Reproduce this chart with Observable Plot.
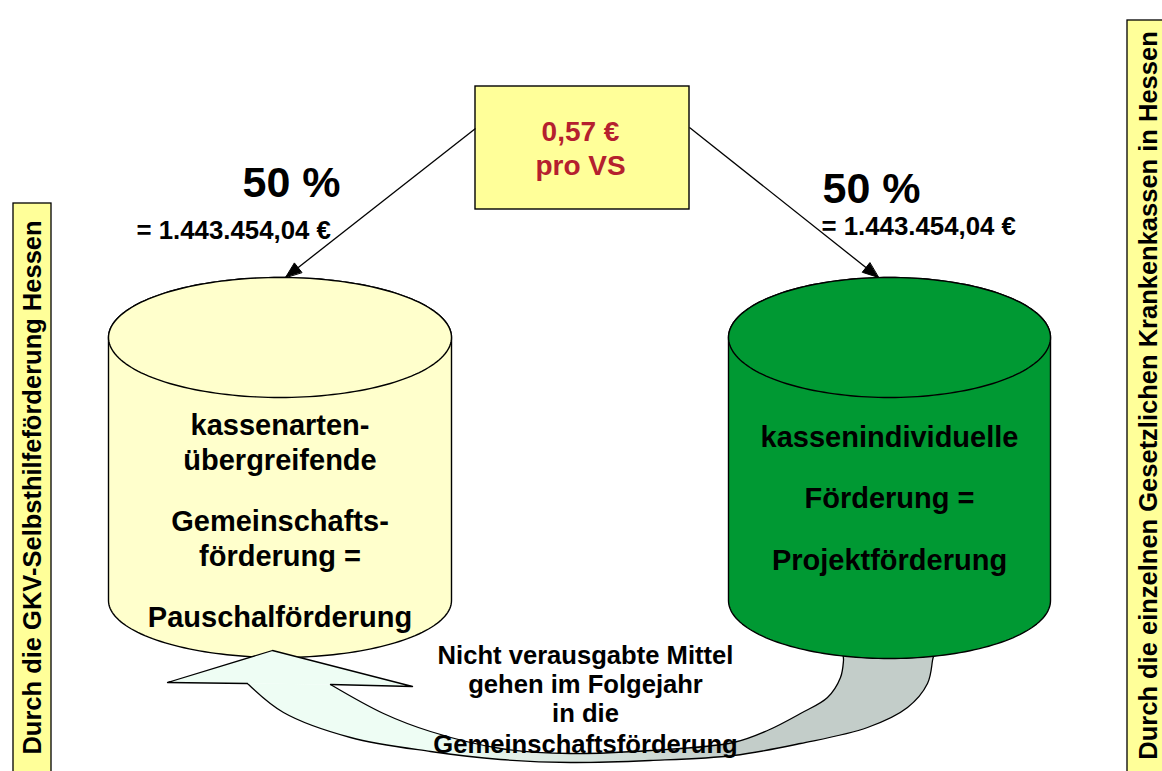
<!DOCTYPE html>
<html><head><meta charset="utf-8">
<script src="https://cdn.jsdelivr.net/npm/d3@7"></script>
<script src="https://cdn.jsdelivr.net/npm/@observablehq/plot@0.6"></script>
<style>
html,body{margin:0;padding:0;background:#fff;}
#chart{width:1162px;height:771px;overflow:hidden;}
</style></head><body>
<svg width="0" height="0" style="position:absolute">
<defs><linearGradient id="carryGrad" x1="0" x2="1" y1="0" y2="0">
<stop offset="0.27" stop-color="#eefdf4"/><stop offset="0.70" stop-color="#c3cdc9"/>
</linearGradient></defs></svg>
<div id="chart"></div>
<script>
// ---------- data (texts and values) ----------
const rateLines = ["0,57 €", "pro VS"];
const shareLabels = ["50 %", "50 %"];
const amountLabels = ["= 1.443.454,04 €", "= 1.443.454,04 €"];
const sideLabels = ["Durch die GKV-Selbsthilfeförderung Hessen",
                    "Durch die einzelnen Gesetzlichen Krankenkassen in Hessen"];
const poolLeftLines = ["kassenarten-", "übergreifende", "Gemeinschafts-", "förderung =", "Pauschalförderung"];
const poolRightLines = ["kassenindividuelle", "Förderung =", "Projektförderung"];
const carryLines = ["Nicht verausgabte Mittel", "gehen im Folgejahr", "in die", "Gemeinschaftsförderung"];

// ---------- layout (pixel geometry, kept apart from data) ----------
const W = 1162, H = 771;
const FONT = "Liberation Sans, Arial, Helvetica, sans-serif";
const sideBoxes = [
  {x1: 13, x2: 51, y1: 203, y2: 790, tx: 32, ty: 487, size: 25},
  {x1: 1127, x2: 1190, y1: 20, y2: 790, tx: 1148, ty: 395, size: 26}
];
const rateBox = [{x1: 475, x2: 689, y1: 86, y2: 209}];
const rateY = [132, 166];
const shareXY = [{x: 242, y: 183}, {x: 822, y: 189}];
const amountXY = [{x: 136, y: 230}, {x: 821, y: 226}];
const flows = [{x1: 475, y1: 128, x2: 285, y2: 277}, {x1: 689, y1: 127, x2: 878, y2: 277}];
const pools = [
  {cx: 279.5, rx: 171.5, top: 337, ry: 60, bottom: 600, rb: 57, fill: "#ffffcc"},
  {cx: 889, rx: 161, top: 337, ry: 60, bottom: 600, rb: 58, fill: "#009933"}
];
const leftY = [425, 460, 521, 556, 617];
const rightY = [437, 498, 560];
const carryY = [655, 684, 713, 744];
const carryBand = [
  [247,683],[283,712],[350,737],[430,751],[500,759],[570,762],[650,760],[733,755],[800,743],
  [867,727],[907,707],[927,683],[932,660],[934,640],
  [843,640],[843,660],[840,677],[827,697],[800,713],[767,730],[733,742],[650,750],[570,753],
  [500,748],[430,731],[383,713],[330,684]
];
const carryHead = [[247,683],[167,682],[272,650],[412,686],[330,684]];

// ---------- geometry helpers ----------
function cylBody(p) {
  const pts = [[p.cx - p.rx, p.top]], n = 90;
  for (let i = 0; i <= n; i++) { const t = Math.PI - Math.PI * i / n; pts.push([p.cx + p.rx * Math.cos(t), p.bottom + p.rb * Math.sin(t)]); }
  pts.push([p.cx + p.rx, p.top]);
  for (let i = 0; i <= n; i++) { const t = Math.PI * i / n; pts.push([p.cx + p.rx * Math.cos(t), p.top - p.ry * Math.sin(t)]); }
  return pts;
}
function cylTop(p) {
  const pts = [], n = 180;
  for (let i = 0; i <= n; i++) { const t = 2 * Math.PI * i / n; pts.push([p.cx + p.rx * Math.cos(t), p.top + p.ry * Math.sin(t)]); }
  return pts;
}
const HEAD_L = 16, HEAD_W = 6;
const heads = flows.flatMap((f, k) => {
  const dx = f.x2 - f.x1, dy = f.y2 - f.y1, L = Math.hypot(dx, dy), ux = dx / L, uy = dy / L;
  const bx = f.x2 - HEAD_L * ux, by = f.y2 - HEAD_L * uy;
  return [[f.x2, f.y2, k], [bx - HEAD_W * uy, by + HEAD_W * ux, k], [bx + HEAD_W * uy, by - HEAD_W * ux, k]];
});
const X = d => d[0], Y = d => d[1];

function poolMarks(p) {
  return [
    Plot.line(cylBody(p), {x: X, y: Y, fill: p.fill, stroke: "black", strokeWidth: 1.4}),
    Plot.line(cylTop(p), {x: X, y: Y, fill: p.fill, stroke: "black", strokeWidth: 1.4})
  ];
}

const chart = Plot.plot({
  width: W, height: H, margin: 0,
  x: {domain: [0, W], axis: null},
  y: {domain: [0, H], reverse: true, axis: null},
  style: {fontFamily: FONT, background: "white", overflow: "hidden"},
  marks: [
    // side boxes
    Plot.rect(sideBoxes, {x1: "x1", x2: "x2", y1: "y1", y2: "y2", fill: "#ffff99", stroke: "black", strokeWidth: 1.3}),
    Plot.text(sideLabels, {x: (d, i) => sideBoxes[i].tx, y: (d, i) => sideBoxes[i].ty, text: d => d,
      rotate: -90, fontSize: 25.5, fontWeight: "bold", fill: "black"}),
    // rate box
    Plot.rect(rateBox, {x1: "x1", x2: "x2", y1: "y1", y2: "y2", fill: "#ffff99", stroke: "black", strokeWidth: 1.4}),
    Plot.text(rateLines, {x: 580, y: (d, i) => rateY[i], text: d => d, fontSize: 28, fontWeight: "bold", fill: "#b5202e"}),
    // flow arrows
    Plot.link(flows, {x1: "x1", y1: "y1", x2: "x2", y2: "y2", stroke: "black", strokeWidth: 1.3}),
    Plot.line(heads, {x: X, y: Y, z: d => d[2], fill: "black", stroke: "black", strokeWidth: 1, curve: "linear-closed"}),
    // share labels
    Plot.text(shareLabels, {x: (d, i) => shareXY[i].x, y: (d, i) => shareXY[i].y, text: d => d,
      textAnchor: "start", fontSize: 43, fontWeight: "bold", fill: "black"}),
    Plot.text(amountLabels, {x: (d, i) => amountXY[i].x, y: (d, i) => amountXY[i].y, text: d => d,
      textAnchor: "start", fontSize: 25.8, fontWeight: "bold", fill: "black"}),
    // left pool
    ...poolMarks(pools[0]),
    // carry-over arrow
    Plot.line(carryBand, {x: X, y: Y, curve: "catmull-rom", fill: "url(#carryGrad)", stroke: "black", strokeWidth: 1.3}),
    Plot.line(carryHead, {x: X, y: Y, fill: "#eefdf4", stroke: "black", strokeWidth: 1.3}),
    // right pool
    ...poolMarks(pools[1]),
    // pool texts
    Plot.text(poolLeftLines, {x: pools[0].cx, y: (d, i) => leftY[i], text: d => d, fontSize: 29, fontWeight: "bold", fill: "black"}),
    Plot.text(poolRightLines, {x: pools[1].cx, y: (d, i) => rightY[i], text: d => d, fontSize: 29, fontWeight: "bold", fill: "black"}),
    // carry text
    Plot.text(carryLines, {x: 585, y: (d, i) => carryY[i], text: d => d, fontSize: 25.6, fontWeight: "bold", fill: "black"})
  ]
});
document.getElementById("chart").appendChild(chart);
</script>
</body></html>
